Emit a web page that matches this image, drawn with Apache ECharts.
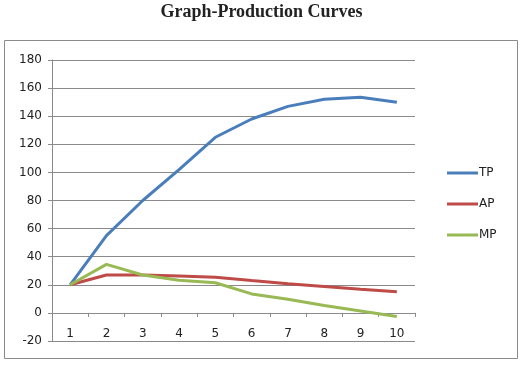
<!DOCTYPE html>
<html><head><meta charset="utf-8">
<script src="https://cdn.jsdelivr.net/npm/echarts@6/dist/echarts.min.js"></script>
<style>html,body{margin:0;padding:0;background:#fff}#c{width:523px;height:365px}</style>
</head><body><div id="c"></div>
<script>
const title = 'Graph-Production Curves';
const categories = ['1','2','3','4','5','6','7','8','9','10'];
const tp = [20, 55, 80, 102, 125, 138, 147, 152, 153.5, 150];
const ap = [20, 27, 27, 26.3, 25.3, 23, 20.8, 18.8, 16.8, 15];
const mp = [20, 34.5, 27, 23.3, 21.5, 13.5, 9.7, 5.2, 1.4, -2.6];
const seriesNames = ['TP', 'AP', 'MP'];
const colors = ['#4a7ebb', '#be4b48', '#98b954'];
const yMin = -20, yMax = 180, yStep = 20;

const W = 523, H = 365;
const gridTop = 60, gridBottom = 24, gridLeft = 52, gridRight = 108;
const plotH = H - gridTop - gridBottom;
// distance from bottom of plot to the zero line, so the category axis sits on y = 0
const zeroOffset = plotH * (0 - yMin) / (yMax - yMin);

const chart = echarts.init(document.getElementById('c'), null, {renderer: 'canvas'});
const font = 'DejaVu Sans';
const mk = (name, data, color) => ({
  name, type: 'line', data, symbol: 'none', smooth: false,
  lineStyle: {width: 3, color}, itemStyle: {color}, z: 3
});
chart.setOption({
  animation: false,
  title: {text: title, left: 'center', top: -2,
    textStyle: {fontFamily: 'Liberation Serif', fontWeight: 'bold', fontSize: 18, color: '#222'}},
  graphic: [{type: 'rect', shape: {x: 4.5, y: 40.5, width: 513, height: 318},
    style: {fill: 'none', stroke: '#8a8a8a', lineWidth: 1}, z: -1}],
  grid: {left: gridLeft, right: gridRight, top: gridTop, bottom: gridBottom, containLabel: false},
  legend: {orient: 'vertical', left: 442, top: 162, itemGap: 19, itemWidth: 31, itemHeight: 14,
    icon: 'path://M0,6 L31,6 L31,9 L0,9 Z',
    data: seriesNames, textStyle: {fontFamily: font, fontSize: 12, color: '#222', padding: [0,0,0,-4]}},
  xAxis: {type: 'category', data: categories, boundaryGap: true, offset: -zeroOffset,
    axisLine: {onZero: false, lineStyle: {color: '#8a8a8a', width: 1}},
    axisTick: {show: true, length: 4, inside: false, lineStyle: {color: '#8a8a8a'}},
    axisLabel: {margin: 15, fontFamily: font, fontSize: 12, color: '#222'},
    splitLine: {show: false}},
  yAxis: {type: 'value', min: yMin, max: yMax, interval: yStep,
    axisLine: {show: true, lineStyle: {color: '#8a8a8a'}},
    axisTick: {show: true, length: 4, lineStyle: {color: '#8a8a8a'}},
    axisLabel: {margin: 10, fontFamily: font, fontSize: 12, color: '#222'},
    splitLine: {show: true, lineStyle: {color: '#8a8a8a', width: 1}}},
  series: [mk(seriesNames[0], tp, colors[0]), mk(seriesNames[1], ap, colors[1]), mk(seriesNames[2], mp, colors[2])]
});
</script></body></html>
